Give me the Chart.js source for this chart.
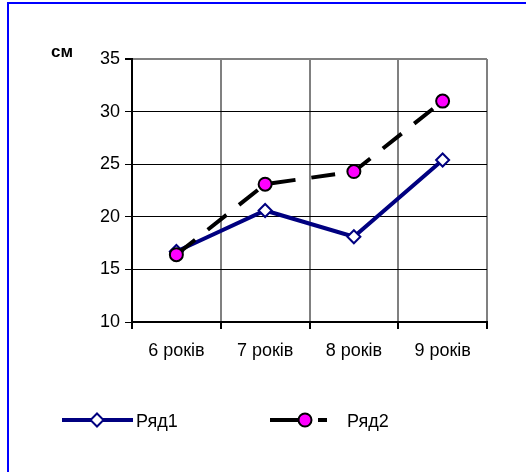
<!DOCTYPE html>
<html><head><meta charset="utf-8">
<script src="https://cdn.jsdelivr.net/npm/chart.js@4"></script>
<style>html,body{margin:0;padding:0;background:#fff;}#wrap{width:526px;height:472px;position:relative;}</style>
</head><body><div id="wrap"><canvas id="c" width="526" height="472"></canvas></div>
<script>
const categories = ['6 років', '7 років', '8 років', '9 років'];
const series1 = [16.7, 20.6, 18.1, 25.4];
const series2 = [16.4, 23.1, 24.3, 31.0];
const seriesNames = ['Ряд1', 'Ряд2'];
const yMin = 10, yMax = 35, yStep = 5;
const yUnit = 'см';

const FONT = 'Liberation Sans, Arial, sans-serif';

const framePlugin = {
  id: 'frame',
  beforeDraw(chart) {
    const ctx = chart.ctx;
    ctx.save();
    ctx.fillStyle = '#fff';
    ctx.fillRect(0, 0, chart.width, chart.height);
    ctx.fillStyle = '#0000ff';
    ctx.fillRect(7, 2, 2, chart.height - 2);
    ctx.fillRect(7, 2, chart.width - 7, 2);
    ctx.restore();
  }
};

function drawMarker(ctx, ds, x, y) {
  ctx.save();
  ctx.lineWidth = ds.pointBorderWidth;
  ctx.strokeStyle = ds.pointBorderColor;
  ctx.fillStyle = ds.pointBackgroundColor;
  ctx.setLineDash([]);
  const r = ds.pointRadius;
  ctx.beginPath();
  if (ds.pointStyle === 'rectRot') {
    ctx.moveTo(x, y - r); ctx.lineTo(x + r, y); ctx.lineTo(x, y + r); ctx.lineTo(x - r, y); ctx.closePath();
  } else {
    ctx.arc(x, y, r, 0, Math.PI * 2);
  }
  ctx.fill(); ctx.stroke();
  ctx.restore();
}

const extrasPlugin = {
  id: 'extras',
  afterDraw(chart) {
    const ctx = chart.ctx;
    const a = chart.chartArea;
    ctx.save();
    // unit label
    ctx.fillStyle = '#000';
    ctx.font = 'bold 17px ' + FONT;
    ctx.textAlign = 'center';
    ctx.textBaseline = 'middle';
    ctx.fillText(yUnit, a.left - 70, a.top - 7);
    // legend
    const ly = 420;
    const d1 = chart.data.datasets[0];
    const d2 = chart.data.datasets[1];
    ctx.lineCap = 'butt';
    ctx.lineWidth = d1.borderWidth;
    ctx.strokeStyle = d1.borderColor;
    ctx.beginPath(); ctx.moveTo(62, ly); ctx.lineTo(133, ly); ctx.stroke();
    drawMarker(ctx, d1, 97, ly);
    ctx.lineWidth = d2.borderWidth;
    ctx.strokeStyle = d2.borderColor;
    ctx.beginPath(); ctx.moveTo(270, ly); ctx.lineTo(300, ly); ctx.moveTo(318, ly); ctx.lineTo(327, ly); ctx.stroke();
    drawMarker(ctx, d2, 305, ly);
    ctx.fillStyle = '#000';
    ctx.font = '18px ' + FONT;
    ctx.textAlign = 'left';
    ctx.fillText(d1.label, 136, ly + 2);
    ctx.fillText(d2.label, 347, ly + 2);
    ctx.restore();
  }
};

new Chart(document.getElementById('c'), {
  type: 'line',
  data: {
    labels: categories,
    datasets: [
      {
        label: seriesNames[0], data: series1, order: 1,
        borderColor: '#000080', borderWidth: 4, tension: 0,
        pointStyle: 'rectRot', pointRadius: 6.5, pointBorderWidth: 2,
        pointBorderColor: '#000080', pointBackgroundColor: '#ffffff',
        pointHoverRadius: 6.5
      },
      {
        label: seriesNames[1], data: series2, order: 0,
        borderColor: '#000000', borderWidth: 4, tension: 0, borderDash: [24, 16],
        pointStyle: 'circle', pointRadius: 6.5, pointBorderWidth: 2,
        pointBorderColor: '#000000', pointBackgroundColor: '#ff00ff',
        pointHoverRadius: 6.5
      }
    ]
  },
  options: {
    responsive: false,
    animation: false,
    layout: { padding: { top: 59, right: 39, bottom: 90, left: 0 } },
    plugins: { legend: { display: false }, tooltip: { enabled: false } },
    scales: {
      x: {
        offset: true,
        afterFit(s) { s.height = 60; },
        grid: {
          offset: true, color: '#808080', lineWidth: 2,
          tickColor: '#000', tickLength: 7, drawTicks: true
        },
        border: { display: true, color: '#000', width: 2 },
        ticks: { color: '#000', font: { family: FONT, size: 18 }, padding: 11, maxRotation: 0 }
      },
      y: {
        min: yMin, max: yMax,
        afterFit(s) { s.width = 132; },
        grid: {
          color: (c) => (c.tick && c.tick.value === yMax) ? '#808080' : '#000',
          lineWidth: (c) => (c.tick && c.tick.value === yMax) ? 2 : 1,
          tickColor: '#000', tickLength: 7
        },
        border: { display: true, color: '#000', width: 2 },
        ticks: { stepSize: yStep, color: '#000', font: { family: FONT, size: 18 }, padding: 5 }
      }
    }
  },
  plugins: [framePlugin, extrasPlugin]
});
</script>
</body></html>
